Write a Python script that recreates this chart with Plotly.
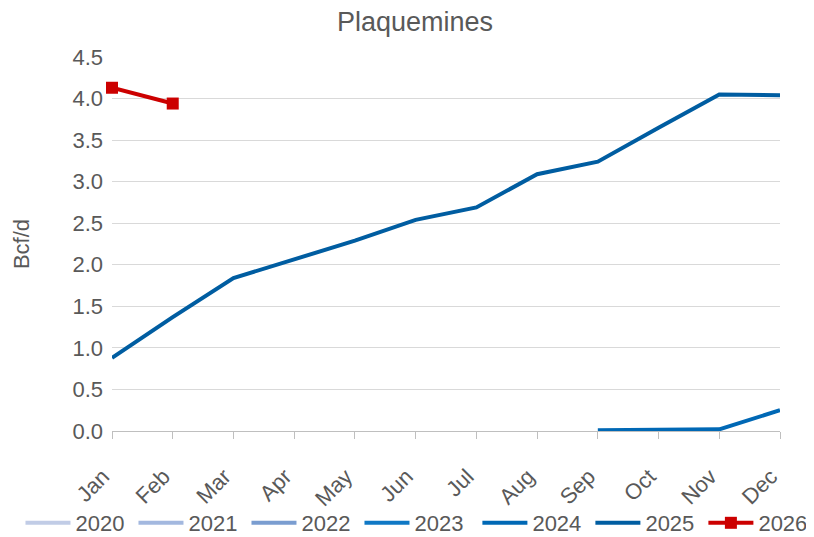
import plotly.graph_objects as go

months = ["Jan", "Feb", "Mar", "Apr", "May", "Jun", "Jul", "Aug", "Sep", "Oct", "Nov", "Dec"]
s2020 = [None] * 12
s2021 = [None] * 12
s2022 = [None] * 12
s2023 = [None] * 12
s2024 = [None, None, None, None, None, None, None, None, 0.01, 0.02, 0.02, 0.25]
s2025 = [0.88, 1.37, 1.84, 2.07, 2.29, 2.54, 2.69, 3.09, 3.24, 3.65, 4.05, 4.04]
s2026 = [4.13, 3.94] + [None] * 10

series = [
    ("2020", s2020, "#c1cce6", "legend"),
    ("2021", s2021, "#a3b8df", "legend"),
    ("2022", s2022, "#7a9dd0", "legend"),
    ("2023", s2023, "#0f78c5", "legend"),
    ("2024", s2024, "#0068b5", "legend2"),
    ("2025", s2025, "#005da1", "legend2"),
]

FONT = "Liberation Sans, Arial, sans-serif"
GREY = "#595959"

fig = go.Figure()
for name, vals, col, lg in series:
    fig.add_trace(go.Scatter(x=months, y=vals, name=name, mode="lines", legend=lg,
                             cliponaxis=False, line=dict(color=col, width=4)))
fig.add_trace(go.Scatter(x=months, y=s2026, name="2026", mode="lines+markers", legend="legend2",
                         cliponaxis=False,
                         line=dict(color="#cc0000", width=4),
                         marker=dict(symbol="square", size=12, color="#cc0000")))

legend_common = dict(orientation="h", yanchor="middle", y=-0.246,
                     font=dict(size=22, color=GREY), traceorder="normal",
                     itemwidth=45, entrywidth=53, entrywidthmode="pixels",
                     tracegroupgap=0, bgcolor="rgba(0,0,0,0)")

fig.update_layout(
    width=814, height=529,
    margin=dict(l=104, r=42, t=49, b=106, autoexpand=False),
    paper_bgcolor="white", plot_bgcolor="white",
    font=dict(family=FONT, size=22, color=GREY),
    title=dict(text="Plaquemines", x=0.5, xanchor="center", y=0.9735, yanchor="middle",
               font=dict(size=27, color=GREY, family=FONT)),
    showlegend=True,
    legend=dict(x=-0.137, xanchor="left", **legend_common),
    legend2=dict(x=0.547, xanchor="left", **legend_common),
    xaxis=dict(type="category", range=[0, 11], showgrid=False,
               showline=True, linecolor="#bfbfbf", linewidth=1,
               ticks="outside", ticklen=7, tickcolor="#bfbfbf",
               tickangle=-45, ticklabelstandoff=16, ticklabelshift=-9,
               tickfont=dict(size=22, color=GREY)),
    yaxis=dict(range=[0, 4.5], dtick=0.5, tickformat=".1f",
               showgrid=True, gridcolor="#d9d9d9", gridwidth=1,
               zeroline=False, showline=False, ticks="",
               ticklabelstandoff=8,
               tickfont=dict(size=22, color=GREY),
               title=dict(text="Bcf/d", font=dict(size=22, color=GREY), standoff=36)),
)

fig.write_html("out.html")
